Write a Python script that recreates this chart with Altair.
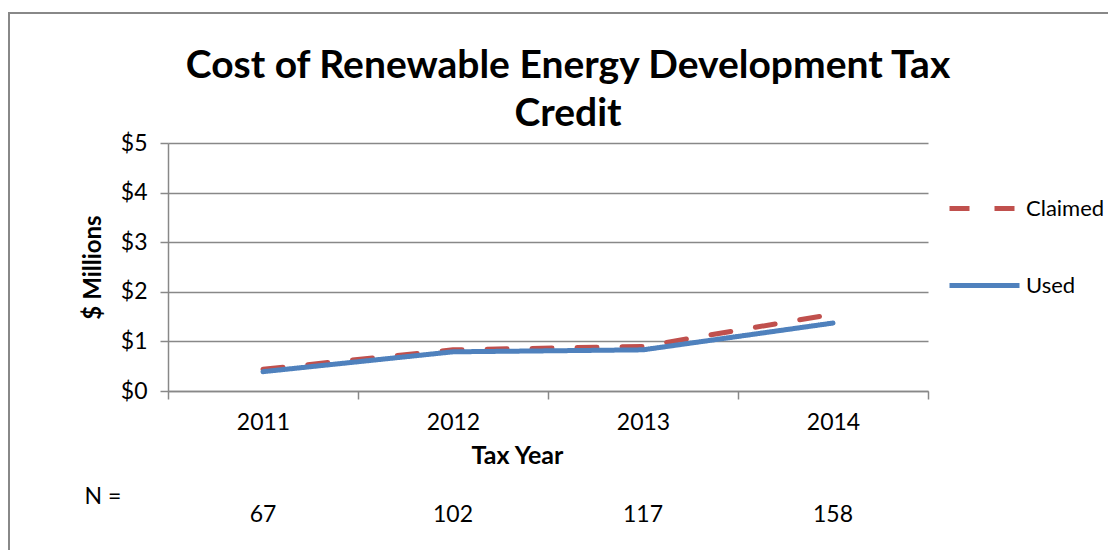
import altair as alt
import pandas as pd

years = ["2011", "2012", "2013", "2014"]
claimed = [0.44, 0.83, 0.90, 1.55]
used = [0.39, 0.79, 0.83, 1.37]
n_counts = [67, 102, 117, 158]
series_names = ["Claimed", "Used"]
series_colors = ["#C0504D", "#4F81BD"]
title_lines = ["Cost of Renewable Energy Development Tax", "Credit"]

FONT = "Lato"
LBL = 23

rows = []
for y, c, u in zip(years, claimed, used):
    rows.append({"year": y, "series": "Claimed", "value": c})
    rows.append({"year": y, "series": "Used", "value": u})
df = pd.DataFrame(rows)
ndf = pd.DataFrame({"year": years, "n": [str(v) for v in n_counts]})
one = pd.DataFrame({"a": [0]})
tdf = pd.DataFrame({"t": [title_lines]})

xscale = alt.Scale(type="band", domain=years, paddingInner=0, paddingOuter=0)

leg = dict(title=None, orient="none", legendX=779, legendY=28,
           symbolType="stroke", symbolSize=4900, symbolStrokeWidth=5,
           labelFont=FONT, labelFontSize=22, labelColor="#000",
           labelOffset=4, rowPadding=28)

lines = alt.Chart(df).mark_line(strokeWidth=5, strokeCap="round", strokeJoin="round").encode(
    x=alt.X("year:N", scale=xscale,
            axis=alt.Axis(title="Tax Year", titleFont=FONT, titleFontSize=25, titleFontWeight="bold",
                          titleColor="#000", titleX=349, titleY=64, titleBaseline="middle",
                          labelFont=FONT, labelFontSize=LBL, labelColor="#000", labelAngle=0,
                          labelPadding=12, tickBand="extent", tickSize=8, tickColor="#888",
                          tickWidth=1.5, domainColor="#888", domainWidth=1.5, grid=False)),
    y=alt.Y("value:Q", scale=alt.Scale(domain=[0, 5], nice=False),
            axis=alt.Axis(title="$ Millions", values=[0, 1, 2, 3, 4, 5],
                          labelExpr="'$' + datum.value", labelFont=FONT, labelFontSize=LBL,
                          labelColor="#000", labelPadding=13, tickSize=8, tickColor="#888",
                          tickWidth=1.5, domainColor="#888", domainWidth=1.5,
                          gridColor="#888", gridWidth=1.5,
                          titleFont=FONT, titleFontSize=24, titleFontWeight="bold",
                          titleColor="#000", titleAngle=-90, titleX=-75, titleY=124,
                          titleBaseline="middle", titleAlign="center")),
    color=alt.Color("series:N", scale=alt.Scale(domain=series_names, range=series_colors),
                    legend=alt.Legend(**leg)),
    strokeDash=alt.StrokeDash("series:N",
                              scale=alt.Scale(domain=series_names, range=[[20, 25], [1, 0]]),
                              legend=alt.Legend(**leg)),
)

ntext = alt.Chart(ndf).mark_text(font=FONT, fontSize=LBL, color="#000", baseline="middle").encode(
    x=alt.X("year:N", scale=xscale),
    y=alt.value(372),
    text="n:N",
)

nlabel = alt.Chart(one).mark_text(font=FONT, fontSize=LBL, color="#000", baseline="middle",
                                  text="N =").encode(
    x=alt.value(-65), y=alt.value(354)
)

title = alt.Chart(tdf).mark_text(font=FONT, fontSize=39, fontWeight="bold", color="#000",
                                 align="center", baseline="alphabetic", lineHeight=48).encode(
    x=alt.value(400), y=alt.value(-65), text="t"
)

frame = alt.Chart(one).mark_rect(fill=None, stroke="#888", strokeWidth=2).encode(
    x=alt.value(-159), x2=alt.value(1000), y=alt.value(-130), y2=alt.value(500)
)

chart = alt.layer(frame, lines, ntext, nlabel, title).properties(
    width=760, height=248,
    autosize=alt.AutoSizeParams(type="none"),
    padding={"left": 160, "top": 135, "right": 180, "bottom": 159},
).configure_view(stroke=None)

chart.save("out.html", embed_options={"renderer": "svg", "actions": False})
